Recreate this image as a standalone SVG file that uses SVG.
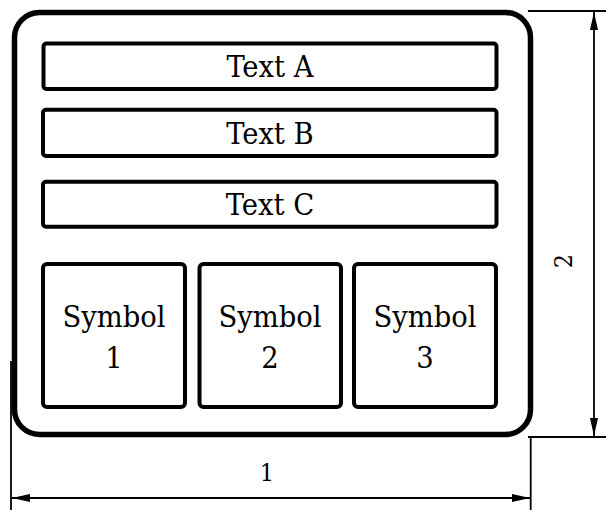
<svg xmlns="http://www.w3.org/2000/svg" width="606" height="510" viewBox="0 0 606 510">
  <style>
    .frame { fill: #fff; stroke: #000; stroke-width: 5.5; }
    .box { fill: #fff; stroke: #000; stroke-width: 4; }
    .lbl { font-family: "DejaVu Serif Condensed", "DejaVu Serif", serif; font-stretch: condensed; font-size: 30.5px; fill: #000; text-anchor: middle; }
    .dim { font-family: "DejaVu Serif Condensed", "DejaVu Serif", serif; font-stretch: condensed; font-size: 25px; fill: #000; text-anchor: middle; }
    .ext { stroke: #000; stroke-width: 1.8; fill: none; }
    .dline { stroke: #000; stroke-width: 1.8; fill: none; marker-start: url(#arr); marker-end: url(#arr); }
  </style>
  <defs>
    <marker id="arr" viewBox="0 0 18 8" refX="18" refY="4" markerWidth="18" markerHeight="8" markerUnits="userSpaceOnUse" orient="auto-start-reverse">
      <path d="M0,0 L18,4 L0,8 Z" fill="#000"/>
    </marker>
  </defs>
  <rect width="606" height="510" fill="#fff"/>

  <g id="frame">
    <rect class="frame" x="14.5" y="12.5" width="516" height="422" rx="25"/>
  </g>

  <g id="text-a">
    <rect class="box" x="43.5" y="43.5" width="453" height="45.5" rx="3"/>
    <text class="lbl" x="270" y="77">Text A</text>
  </g>
  <g id="text-b">
    <rect class="box" x="43" y="109.7" width="453.5" height="46.3" rx="3"/>
    <text class="lbl" x="270" y="143.5">Text B</text>
  </g>
  <g id="text-c">
    <rect class="box" x="43" y="181.7" width="453.5" height="45" rx="3"/>
    <text class="lbl" x="270" y="214.8">Text C</text>
  </g>

  <g id="symbol-1">
    <rect class="box" x="43" y="264" width="142" height="143" rx="4"/>
    <text class="lbl" x="114" y="327">Symbol</text>
    <text class="lbl" x="114" y="368">1</text>
  </g>
  <g id="symbol-2">
    <rect class="box" x="199.5" y="264" width="141.5" height="143" rx="4"/>
    <text class="lbl" x="270" y="327">Symbol</text>
    <text class="lbl" x="270" y="368">2</text>
  </g>
  <g id="symbol-3">
    <rect class="box" x="354" y="264" width="142" height="143" rx="4"/>
    <text class="lbl" x="425" y="327">Symbol</text>
    <text class="lbl" x="425" y="368">3</text>
  </g>

  <g id="connectors">
    <!-- extension lines -->
    <line class="ext" x1="528" y1="11" x2="606" y2="11"/>
    <line class="ext" x1="528" y1="437" x2="606" y2="437"/>
    <line class="ext" x1="530.7" y1="437" x2="530.7" y2="510"/>
    <line class="ext" x1="11" y1="361" x2="11" y2="510"/>
    <!-- width dimension -->
    <line class="dline" x1="12" y1="498" x2="530" y2="498"/>
    <!-- height dimension -->
    <line class="dline" x1="594" y1="12" x2="594" y2="436"/>
  </g>

  <g id="dim-labels">
    <text class="dim" x="267" y="481">1</text>
    <text class="dim" transform="translate(572,261) rotate(-90)" x="0" y="0">2</text>
  </g>
</svg>
